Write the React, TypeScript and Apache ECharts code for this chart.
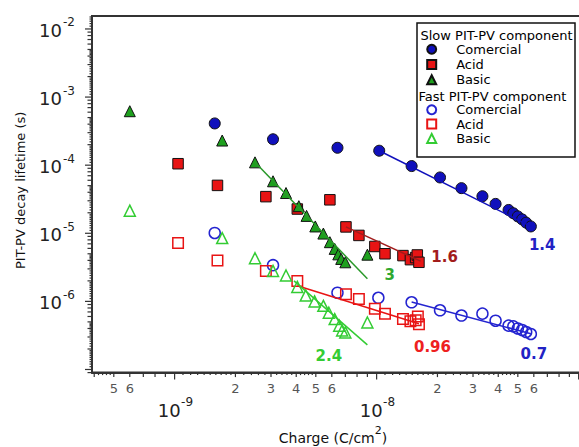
import React, { useEffect, useRef } from "react";
import * as echarts from "echarts";

// ---- axis ranges ----
const X_MIN = 3.9e-10;
const X_MAX = 1.1e-7;
const Y_MIN = 9e-8;
const Y_MAX = 1.55e-2;

// ---- tick labels ----
const xMajorTicks = [1e-9, 1e-8];
const xMajorExponents = ["-9", "-8"];
const xMinorLabelValues = [5e-10, 6e-10, 2e-9, 3e-9, 4e-9, 5e-9, 6e-9, 2e-8, 3e-8, 4e-8, 5e-8, 6e-8];
const xMinorLabels = ["5", "6", "2", "3", "4", "5", "6", "2", "3", "4", "5", "6"];
const yMajorTicks = [1e-2, 1e-3, 1e-4, 1e-5, 1e-6];
const yMajorExponents = ["-2", "-3", "-4", "-5", "-6"];

// ---- series data: [charge (C/cm2), lifetime (s)] ----
const slowComercial = [
  [1.58e-9, 4.1e-4], [3.07e-9, 2.4e-4], [6.4e-9, 1.8e-4], [1.03e-8, 1.63e-4],
  [1.49e-8, 9.7e-5], [2.06e-8, 6.6e-5], [2.63e-8, 4.6e-5], [3.34e-8, 3.5e-5],
  [3.88e-8, 2.7e-5], [4.5e-8, 2.2e-5], [4.75e-8, 1.97e-5], [5.0e-8, 1.77e-5],
  [5.25e-8, 1.6e-5], [5.5e-8, 1.43e-5], [5.8e-8, 1.26e-5],
];
const slowAcid = [
  [1.04e-9, 1.05e-4], [1.63e-9, 5.05e-5], [2.83e-9, 3.45e-5], [4.05e-9, 2.27e-5],
  [5.87e-9, 3.1e-5], [7.05e-9, 1.24e-5], [8.17e-9, 9.3e-6], [9.8e-9, 6.4e-6],
  [1.1e-8, 5.0e-6], [1.35e-8, 4.7e-6], [1.47e-8, 4.1e-6], [1.56e-8, 4.4e-6],
  [1.59e-8, 4.8e-6], [1.62e-8, 3.75e-6],
];
const slowBasic = [
  [6.0e-10, 6.2e-4], [1.72e-9, 2.3e-4], [2.5e-9, 1.1e-4], [3.07e-9, 5.8e-5],
  [3.56e-9, 3.9e-5], [4.12e-9, 2.5e-5], [4.5e-9, 1.8e-5], [4.97e-9, 1.26e-5],
  [5.45e-9, 9.9e-6], [5.87e-9, 7.4e-6], [6.2e-9, 5.9e-6], [6.46e-9, 4.9e-6],
  [6.68e-9, 4.2e-6], [7.0e-9, 3.75e-6], [9.0e-9, 4.85e-6],
];
const fastComercial = [
  [1.58e-9, 1.01e-5], [3.07e-9, 3.4e-6], [6.4e-9, 1.34e-6], [1.02e-8, 1.13e-6],
  [1.49e-8, 9.7e-7], [2.06e-8, 7.4e-7], [2.63e-8, 6.2e-7], [3.34e-8, 6.6e-7],
  [3.88e-8, 5.2e-7], [4.5e-8, 4.4e-7], [4.75e-8, 4.3e-7], [5.0e-8, 4.0e-7],
  [5.25e-8, 3.8e-7], [5.5e-8, 3.55e-7], [5.8e-8, 3.32e-7],
];
const fastAcid = [
  [1.04e-9, 7.2e-6], [1.63e-9, 4.0e-6], [2.83e-9, 2.8e-6], [4.05e-9, 2.0e-6],
  [7.05e-9, 1.27e-6], [8.17e-9, 1.08e-6], [9.8e-9, 7.8e-7], [1.1e-8, 6.6e-7],
  [1.35e-8, 5.5e-7], [1.47e-8, 5.1e-7], [1.56e-8, 5.3e-7], [1.6e-8, 6.0e-7],
  [1.62e-8, 4.6e-7],
];
const fastBasic = [
  [6.0e-10, 2.15e-5], [1.72e-9, 8.5e-6], [2.5e-9, 4.3e-6], [3.07e-9, 2.8e-6],
  [3.56e-9, 2.4e-6], [4.05e-9, 1.63e-6], [4.46e-9, 1.22e-6], [4.93e-9, 1.0e-6],
  [5.45e-9, 8.6e-7], [5.8e-9, 6.8e-7], [6.2e-9, 5.5e-7], [6.53e-9, 4.4e-7],
  [6.75e-9, 3.75e-7], [7.0e-9, 3.5e-7], [9.0e-9, 4.9e-7],
];

// ---- power-law fit segments ----
const slowComercialFit = [[1.03e-8, 1.63e-4], [5.8e-8, 1.26e-5]];
const slowAcidFit = [[7.05e-9, 1.24e-5], [1.65e-8, 3.9e-6]];
const slowBasicFit = [[2.5e-9, 1.1e-4], [9.0e-9, 2.15e-6]];
const fastComercialFit = [[1.49e-8, 9.8e-7], [5.8e-8, 3.35e-7]];
const fastAcidFit = [[4.05e-9, 1.7e-6], [1.62e-8, 4.7e-7]];
const fastBasicFit = [[3.9e-9, 2.0e-6], [9.0e-9, 2.3e-7]];

// ---- slope annotations ----
const annotationTexts = ["1.4", "1.6", "3", "2.4", "0.96", "0.7"];
const annotationPositions = [
  [6.6e-8, 6.8e-6], [2.17e-8, 4.46e-6], [1.16e-8, 2.47e-6],
  [5.8e-9, 1.6e-7], [1.89e-8, 2.13e-7], [6.0e-8, 1.69e-7],
];

// ---- styles ----
const FONT = "DejaVu Sans";
const BLUE = "#1010bc";
const OPEN_BLUE = "#2424d0";
const RED = "#e81414";
const DARK_RED = "#a21c1c";
const GREEN = "#1ea01e";
const LIGHT_GREEN = "#33cc33";
const annotationColors = ["#2222c4", DARK_RED, "#2fa82f", LIGHT_GREEN, "#ee2020", "#2222c4"];
const TICK_LEN = [7, 4.5, 2.5];

function buildTicks(min: number, max: number) {
  const mantissas = [1, 1.1, 1.2, 1.3, 1.4, 1.5, 1.6, 1.7, 1.8, 1.9, 2, 2.2, 2.4, 2.6, 2.8,
    3, 3.2, 3.4, 3.6, 3.8, 4, 4.2, 4.4, 4.6, 4.8, 5, 6, 7, 8, 9];
  const out: { v: number; kind: number }[] = [];
  const e0 = Math.floor(Math.log10(min));
  const e1 = Math.ceil(Math.log10(max));
  for (let e = e0; e <= e1; e++) {
    for (const m of mantissas) {
      const v = Number((m * Math.pow(10, e)).toPrecision(6));
      if (v >= min && v <= max) {
        out.push({ v, kind: m === 1 ? 0 : Number.isInteger(m) ? 1 : 2 });
      }
    }
  }
  return out;
}

export default function App() {
  const ref = useRef<HTMLDivElement>(null);

  useEffect(() => {
    if (!ref.current) return;
    const chart = echarts.init(ref.current, null, { renderer: "svg" });

    const xTicks = buildTicks(X_MIN, X_MAX);
    const yTicks = buildTicks(Y_MIN, Y_MAX);

    const filled = (color: string) => ({ color, borderColor: "#111", borderWidth: 1, opacity: 1 });
    const open = (color: string) => ({ color: "rgba(255,255,255,0)", borderColor: color, borderWidth: 1.5, opacity: 1 });

    const scatter = (name: string, data: number[][], symbol: string, size: number, itemStyle: any) => ({
      type: "scatter", name, data, symbol, symbolSize: size, itemStyle, z: 3,
      emphasis: { disabled: true },
    });
    const fit = (data: number[][], color: string) => ({
      type: "line", data, showSymbol: false, symbol: "none", z: 4, silent: true,
      lineStyle: { color, width: 1.5 },
    });

    const legendCommon = {
      orient: "vertical", left: 426.2, padding: 0, itemWidth: 9, itemHeight: 9,
      selectedMode: false,
      formatter: (n: string) => n.replace(/^(Slow|Fast) /, ""),
      textStyle: { fontSize: 13, fontFamily: FONT, color: "#000", padding: [0, 0, 0, 15] },
      z: 6,
    };

    chart.setOption({
      animation: false,
      backgroundColor: "#fff",
      textStyle: { fontFamily: FONT },
      grid: {
        left: 92, top: 16, right: -8, bottom: 74.4,
        show: true, borderColor: "#333", borderWidth: 2,
        outerBoundsMode: "none",
      },
      xAxis: {
        type: "log", logBase: 10, min: X_MIN, max: X_MAX,
        axisLine: { show: true, lineStyle: { color: "#333", width: 2 } },
        axisTick: { show: false }, axisLabel: { show: false }, splitLine: { show: false },
        minorTick: { show: false },
        name: "{a|Charge (C/cm}{s|2}{a|)}",
        nameLocation: "middle", nameGap: 52,
        nameTextStyle: {
          padding: [0, 13, 0, 0],
          rich: {
            a: { fontSize: 14, fontFamily: FONT, color: "#111", lineHeight: 20, verticalAlign: "bottom" },
            s: { fontSize: 11, fontFamily: FONT, color: "#111", lineHeight: 11, verticalAlign: "top" },
          },
        },
      },
      yAxis: {
        type: "log", logBase: 10, min: Y_MIN, max: Y_MAX,
        axisLine: { show: true, lineStyle: { color: "#333", width: 2 } },
        axisTick: { show: false }, axisLabel: { show: false }, splitLine: { show: false },
        minorTick: { show: false },
        name: "PIT-PV decay lifetime (s)",
        nameLocation: "middle", nameGap: 65, nameRotate: 90,
        nameTextStyle: { fontSize: 13, fontFamily: FONT, color: "#111", padding: [0, 0, 0, 8] },
      },
      legend: [
        { ...legendCommon, top: 42.8, itemGap: 2.2, data: ["Slow Comercial", "Slow Acid", "Slow Basic"] },
        { ...legendCommon, top: 103.3, itemGap: 1.3, data: ["Fast Comercial", "Fast Acid", "Fast Basic"] },
      ],
      graphic: [
        {
          type: "rect", z: 5, shape: { x: 417, y: 23, width: 158, height: 134 },
          style: { fill: "#fff", stroke: "#111", lineWidth: 1.5 },
        },
        {
          type: "text", z: 7, x: 420.5, y: 35,
          style: { text: "Slow PIT-PV component", fontSize: 13, fontFamily: FONT, fill: "#000", verticalAlign: "middle" },
        },
        {
          type: "text", z: 7, x: 418.5, y: 96,
          style: { text: "Fast PIT-PV component", fontSize: 13, fontFamily: FONT, fill: "#000", verticalAlign: "middle" },
        },
      ],
      series: [
        scatter("Slow Comercial", slowComercial, "circle", 11, filled(BLUE)),
        scatter("Slow Acid", slowAcid, "rect", 10.5, filled(RED)),
        scatter("Slow Basic", slowBasic, "triangle", 11, filled(GREEN)),
        scatter("Fast Comercial", fastComercial, "circle", 11, open(OPEN_BLUE)),
        scatter("Fast Acid", fastAcid, "rect", 10.5, open(RED)),
        scatter("Fast Basic", fastBasic, "triangle", 11, open(LIGHT_GREEN)),
        fit(slowComercialFit, BLUE),
        fit(slowAcidFit, DARK_RED),
        fit(slowBasicFit, "#2a992a"),
        fit(fastComercialFit, OPEN_BLUE),
        fit(fastAcidFit, RED),
        fit(fastBasicFit, LIGHT_GREEN),
        {
          type: "scatter", name: "slopes", silent: true, symbolSize: 1, z: 5,
          itemStyle: { color: "rgba(0,0,0,0)", opacity: 1 },
          data: annotationPositions.map((p, i) => ({
            value: p, name: annotationTexts[i],
            label: { color: annotationColors[i] },
          })),
          label: {
            show: true, position: "inside", formatter: "{b}",
            fontSize: 15, fontWeight: "bold", fontFamily: FONT,
          },
        },
        // axis ticks
        {
          type: "custom", silent: true, clip: false, z: 6,
          data: xTicks.map((t) => [t.v, Y_MIN, t.kind]),
          renderItem: (_p: any, api: any) => {
            const c = api.coord([api.value(0), api.value(1)]);
            const len = TICK_LEN[api.value(2)];
            return {
              type: "line",
              shape: { x1: c[0], y1: c[1], x2: c[0], y2: c[1] + len },
              style: { stroke: "#333", lineWidth: 1.2 },
            };
          },
        },
        {
          type: "custom", silent: true, clip: false, z: 6,
          data: yTicks.map((t) => [X_MIN, t.v, t.kind]),
          renderItem: (_p: any, api: any) => {
            const c = api.coord([api.value(0), api.value(1)]);
            const len = TICK_LEN[api.value(2)];
            return {
              type: "line",
              shape: { x1: c[0], y1: c[1], x2: c[0] - len, y2: c[1] },
              style: { stroke: "#333", lineWidth: 1.2 },
            };
          },
        },
        // x minor labels
        {
          type: "custom", silent: true, clip: false, z: 6,
          data: xMinorLabelValues.map((v) => [v, Y_MIN]),
          renderItem: (p: any, api: any) => {
            const c = api.coord([api.value(0), api.value(1)]);
            return {
              type: "text", x: c[0], y: c[1] + 16,
              style: {
                text: xMinorLabels[p.dataIndex], fontSize: 13, fontFamily: FONT,
                fill: "#555", align: "center", verticalAlign: "middle",
              },
            };
          },
        },
        // x major labels
        {
          type: "custom", silent: true, clip: false, z: 6,
          data: xMajorTicks.map((v) => [v, Y_MIN]),
          renderItem: (p: any, api: any) => {
            const c = api.coord([api.value(0), api.value(1)]);
            return {
              type: "group",
              children: [
                {
                  type: "text", x: c[0] + 6, y: c[1] + 38,
                  style: { text: "10", fontSize: 18, fontFamily: FONT, fill: "#222", align: "right", verticalAlign: "middle" },
                },
                {
                  type: "text", x: c[0] + 6.5, y: c[1] + 29,
                  style: { text: xMajorExponents[p.dataIndex], fontSize: 12, fontFamily: FONT, fill: "#222", align: "left", verticalAlign: "middle" },
                },
              ],
            };
          },
        },
        // y major labels
        {
          type: "custom", silent: true, clip: false, z: 6,
          data: yMajorTicks.map((v) => [X_MIN, v]),
          renderItem: (p: any, api: any) => {
            const c = api.coord([api.value(0), api.value(1)]);
            return {
              type: "group",
              children: [
                {
                  type: "text", x: c[0] - 30, y: c[1] + 1.5,
                  style: { text: "10", fontSize: 18, fontFamily: FONT, fill: "#222", align: "right", verticalAlign: "middle" },
                },
                {
                  type: "text", x: c[0] - 29, y: c[1] - 6.5,
                  style: { text: yMajorExponents[p.dataIndex], fontSize: 12, fontFamily: FONT, fill: "#222", align: "left", verticalAlign: "middle" },
                },
              ],
            };
          },
        },
      ],
    });

    return () => chart.dispose();
  }, []);

  return <div ref={ref} style={{ width: 579, height: 447, position: "absolute", left: 0, top: 0 }} />;
}
